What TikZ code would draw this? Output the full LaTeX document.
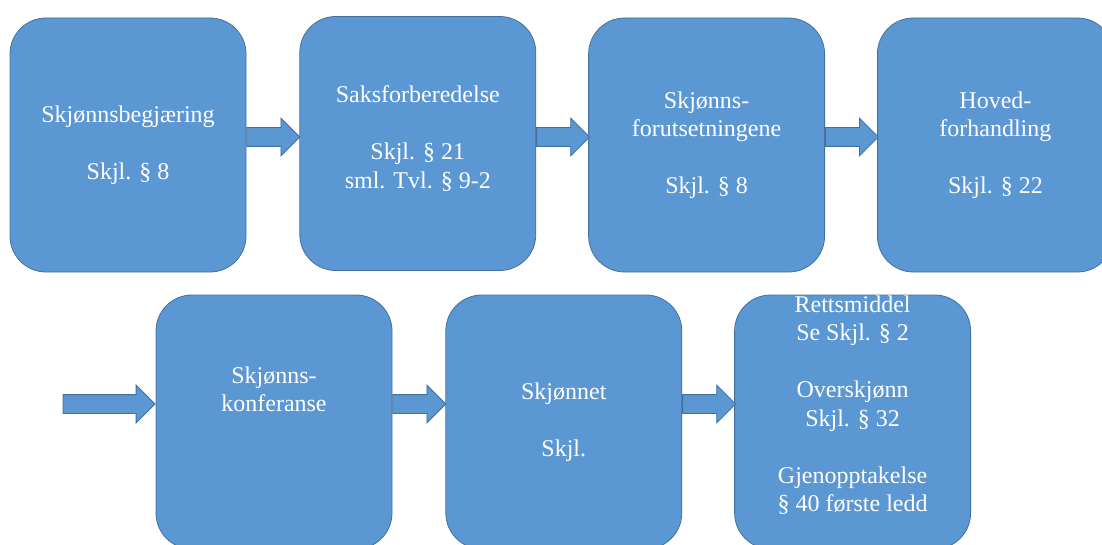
\documentclass[tikz,border=0pt]{standalone}
\usepackage{fontspec}
\setmainfont{Liberation Serif}
\usetikzlibrary{positioning}
\usetikzlibrary{shapes.arrows}
\definecolor{boxblue}{RGB}{91,151,211}
\definecolor{boxline}{RGB}{65,113,156}
\begin{document}
\begin{tikzpicture}[x=1pt,y=-1pt,node distance=52pt,
  step node/.style={rectangle,rounded corners=36pt,draw=boxline,fill=boxblue,line width=.8pt,
    minimum width=236pt,minimum height=254pt,inner sep=0pt,align=center,text=white,
    font=\fontsize{24}{28.5}\selectfont},
  flow arrow/.style={single arrow,draw=boxline,fill=boxblue,line width=.8pt,inner xsep=0pt,
    inner ysep=9pt,single arrow head extend=9.5pt,single arrow tip angle=90,minimum height=53pt}]

  \useasboundingbox (0,0) rectangle (1102,545);

  \node[step node] (begj) at (128,145) {Skjønnsbegjæring\\[28.5pt]Skjl. § 8};
  \node[step node] (saks) [right=53pt of begj,yshift=1.5pt] {Saksforberedelse\\[28.5pt]Skjl. § 21\\sml. Tvl. § 9-2\rule[-13pt]{0pt}{0pt}};
  \node[step node] (forut) [right=of saks,yshift=-1.5pt] {Skjønns-\\forutsetningene\\[28.5pt]Skjl. § 8};
  \node[step node] (hoved) [right=of forut] {Hoved-\\forhandling\\[28.5pt]Skjl. § 22};
  \node[step node] (konf) at (274,422) {Skjønns-\\konferanse\\[28.5pt]\strut};
  \node[step node] (skjonn) [right=53pt of konf] {Skjønnet\\[28.5pt]Skjl.};
  \node[step node] (retts) [right=of skjonn] {Rettsmiddel\\Se Skjl. § 2\\[28.5pt]Overskjønn\\Skjl. § 32\\[28.5pt]Gjenopptakelse\\§ 40 første ledd\\\strut};

  % arrows between the steps
  \node[flow arrow] (a1) [right=0pt of begj,yshift=8pt] {};
  \node[flow arrow] (a2) [right=0pt of saks,yshift=6.5pt] {};
  \node[flow arrow] (a3) [right=0pt of forut,yshift=8pt] {};
  \node[flow arrow,minimum height=92pt] (a4) [left=0pt of konf,yshift=18pt] {};
  \node[flow arrow] (a5) [right=0pt of konf,yshift=18pt] {};
  \node[flow arrow] (a6) [right=0pt of skjonn,yshift=18pt] {};
\end{tikzpicture}
\end{document}
